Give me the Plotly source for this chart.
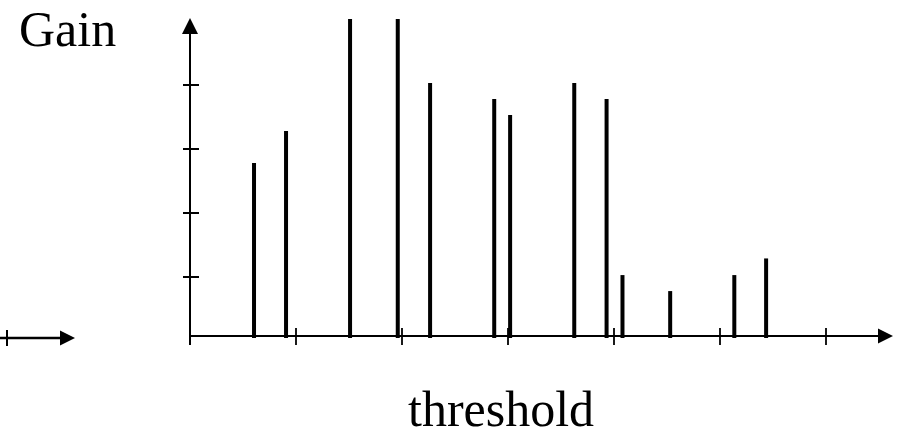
import plotly.graph_objects as go

# Threshold positions (in x-tick units) and the gain at each threshold (in y-tick units)
thresholds = [0.604, 0.906, 1.51, 1.96, 2.265, 2.87, 3.02, 3.625, 3.93, 4.08, 4.53, 5.135, 5.435]
gains = [2.78, 3.28, 5.03, 5.03, 4.03, 3.78, 3.53, 4.03, 3.78, 1.03, 0.78, 1.03, 1.29]
x_ticks = [1, 2, 3, 4, 5, 6]
y_ticks = [1, 2, 3, 4]

W, H = 898, 436
# pixel scale of one axis unit
PX_X, PX_Y = 106.0, 64.0
X0_PX, Y0_PX = 190.0, 341.0  # pixel position of data origin
x_range = [-X0_PX / PX_X, (W - X0_PX) / PX_X]
y_range = [-(H - Y0_PX) / PX_Y, Y0_PX / PX_Y]


def dx(px):
    return px / PX_X


def dy(px):
    return px / PX_Y


axis_y = dy(Y0_PX - 336)  # horizontal axis height
bar_base = dy(Y0_PX - 338)

fig = go.Figure()
fig.add_trace(go.Bar(
    x=thresholds, y=[g - bar_base for g in gains], base=bar_base,
    width=dx(4), marker=dict(color="black", line=dict(width=0)),
    hoverinfo="skip", showlegend=False,
))

shapes = []
black = dict(color="black", width=2)
# vertical axis with arrow
shapes.append(dict(type="line", xref="x", yref="y", x0=0, x1=0,
                   y0=dy(Y0_PX - 345), y1=dy(Y0_PX - 34), line=black))
shapes.append(dict(type="path", xref="x", yref="y",
                   path=f"M {-dx(8)},{dy(Y0_PX-34)} L {dx(8)},{dy(Y0_PX-34)} L 0,{dy(Y0_PX-18)} Z",
                   fillcolor="black", line=dict(width=0)))
# horizontal axis with arrow
shapes.append(dict(type="line", xref="x", yref="y", x0=0, x1=dx(878 - X0_PX),
                   y0=axis_y, y1=axis_y, line=black))
shapes.append(dict(type="path", xref="x", yref="y",
                   path=(f"M {dx(878-X0_PX)},{axis_y+dy(7.5)} L {dx(878-X0_PX)},{axis_y-dy(7.5)} "
                         f"L {dx(893-X0_PX)},{axis_y} Z"),
                   fillcolor="black", line=dict(width=0)))
# y ticks
for t in y_ticks:
    shapes.append(dict(type="line", xref="x", yref="y", x0=-dx(7), x1=dx(9),
                       y0=t, y1=t, line=black))
# x ticks
for t in x_ticks:
    shapes.append(dict(type="line", xref="x", yref="y", x0=t, x1=t,
                       y0=axis_y + dy(8), y1=axis_y - dy(9), line=dict(color="black", width=1.8)))
# small arrow at the far left
small_y = dy(Y0_PX - 338)
shapes.append(dict(type="line", xref="x", yref="y", x0=x_range[0], x1=x_range[0] + dx(61),
                   y0=small_y, y1=small_y, line=dict(color="black", width=2.5)))
shapes.append(dict(type="path", xref="x", yref="y",
                   path=(f"M {x_range[0]+dx(60)},{small_y+dy(7.5)} L {x_range[0]+dx(60)},{small_y-dy(7.5)} "
                         f"L {x_range[0]+dx(75)},{small_y} Z"),
                   fillcolor="black", line=dict(width=0)))
shapes.append(dict(type="line", xref="x", yref="y", x0=x_range[0] + dx(7), x1=x_range[0] + dx(7),
                   y0=small_y + dy(8), y1=small_y - dy(8), line=dict(color="black", width=2)))

font = dict(family="Liberation Serif, Times New Roman, serif", size=50, color="black")
annotations = [
    dict(text="Gain", xref="paper", yref="paper", x=17 / W, y=1 - 29 / H,
         xanchor="left", yanchor="middle", showarrow=False, font=font),
    dict(text="threshold", xref="paper", yref="paper", x=501 / W, y=1 - 409 / H,
         xanchor="center", yanchor="middle", showarrow=False, font=font),
]

fig.update_layout(
    width=W, height=H, margin=dict(l=0, r=0, t=0, b=0),
    paper_bgcolor="white", plot_bgcolor="white",
    xaxis=dict(range=x_range, visible=False, fixedrange=True),
    yaxis=dict(range=y_range, visible=False, fixedrange=True),
    shapes=shapes, annotations=annotations, showlegend=False,
)

fig.write_html("out.html")
